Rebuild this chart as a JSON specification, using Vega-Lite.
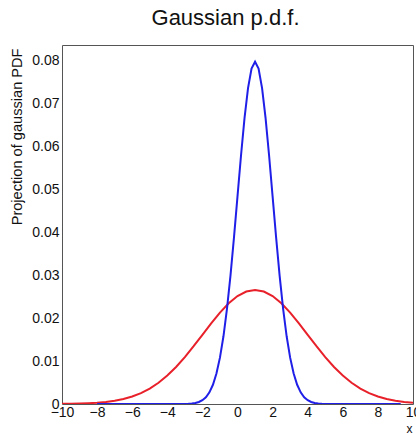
{
  "$schema": "https://vega.github.io/schema/vega-lite/v6.json",
  "autosize": {"type": "none"},
  "padding": {"left": 62, "top": 45, "right": 3, "bottom": 29},
  "width": 351,
  "height": 359,
  "background": "white",
  "config": {
    "view": {"stroke": "#555", "strokeWidth": 1},
    "font": "Liberation Sans",
    "axisX": {
      "ticks": false, "domain": false, "grid": false,
      "labelFont": "Liberation Sans", "labelFontSize": 14, "labelColor": "#111",
      "labelPadding": 1, "labelFlush": false, "labelOverlap": false,
      "titleFont": "Liberation Sans", "titleFontSize": 12, "titleFontWeight": "normal", "titleColor": "#111",
      "titleAnchor": "end", "titleAlign": "right", "titleX": 350, "titleY": 28, "titleBaseline": "alphabetic"
    },
    "axisY": {
      "ticks": false, "domain": false, "grid": false,
      "labelFont": "Liberation Sans", "labelFontSize": 14, "labelColor": "#111",
      "labelPadding": 3, "labelFlush": false, "labelOverlap": false,
      "titleFont": "Liberation Sans", "titleFontSize": 14.6, "titleFontWeight": "normal", "titleColor": "#111",
      "titleAngle": -90, "titleAlign": "right", "titleBaseline": "middle",
      "titleX": -45, "titleY": 3
    }
  },
  "title": {
    "text": "Gaussian p.d.f.",
    "font": "Liberation Sans",
    "fontSize": 22,
    "fontWeight": "normal",
    "color": "#111",
    "anchor": "middle",
    "frame": "group",
    "baseline": "alphabetic",
    "offset": -2,
    "dx": -12
  },
  "datasets": {
    "red": [
      {"x": -10, "y": 0.000032}, {"x": -9.5, "y": 0.000058}, {"x": -9, "y": 0.000103}, {"x": -8.5, "y": 0.000177},
      {"x": -8, "y": 0.000296}, {"x": -7.5, "y": 0.00048}, {"x": -7, "y": 0.00076}, {"x": -6.5, "y": 0.00117},
      {"x": -6, "y": 0.00175}, {"x": -5.5, "y": 0.00254}, {"x": -5, "y": 0.0036}, {"x": -4.5, "y": 0.00495},
      {"x": -4, "y": 0.00663}, {"x": -3.5, "y": 0.00863}, {"x": -3, "y": 0.01093}, {"x": -2.5, "y": 0.01347},
      {"x": -2, "y": 0.01613}, {"x": -1.5, "y": 0.01879}, {"x": -1, "y": 0.0213}, {"x": -0.5, "y": 0.02347},
      {"x": 0, "y": 0.02516}, {"x": 0.5, "y": 0.02623}, {"x": 1, "y": 0.0266}, {"x": 1.5, "y": 0.02623},
      {"x": 2, "y": 0.02516}, {"x": 2.5, "y": 0.02347}, {"x": 3, "y": 0.0213}, {"x": 3.5, "y": 0.01879},
      {"x": 4, "y": 0.01613}, {"x": 4.5, "y": 0.01347}, {"x": 5, "y": 0.01093}, {"x": 5.5, "y": 0.00863},
      {"x": 6, "y": 0.00663}, {"x": 6.5, "y": 0.00495}, {"x": 7, "y": 0.0036}, {"x": 7.5, "y": 0.00254},
      {"x": 8, "y": 0.00175}, {"x": 8.5, "y": 0.00117}, {"x": 9, "y": 0.00076}, {"x": 9.5, "y": 0.00048},
      {"x": 10, "y": 0.000296}
    ],
    "blue": [
      {"x": -8, "y": 0}, {"x": -3.5, "y": 0.000001}, {"x": -3, "y": 0.0000267}, {"x": -2.8, "y": 0.000058},
      {"x": -2.6, "y": 0.000122}, {"x": -2.4, "y": 0.000247}, {"x": -2.2, "y": 0.000477}, {"x": -2, "y": 0.000887},
      {"x": -1.8, "y": 0.00158}, {"x": -1.6, "y": 0.00272}, {"x": -1.4, "y": 0.00448}, {"x": -1.2, "y": 0.00709},
      {"x": -1, "y": 0.0108}, {"x": -0.8, "y": 0.01579}, {"x": -0.6, "y": 0.02218}, {"x": -0.4, "y": 0.02995},
      {"x": -0.2, "y": 0.03884}, {"x": 0, "y": 0.04839}, {"x": 0.2, "y": 0.05794}, {"x": 0.4, "y": 0.06665},
      {"x": 0.6, "y": 0.07366}, {"x": 0.8, "y": 0.07821}, {"x": 1, "y": 0.07979}, {"x": 1.2, "y": 0.07821},
      {"x": 1.4, "y": 0.07366}, {"x": 1.6, "y": 0.06665}, {"x": 1.8, "y": 0.05794}, {"x": 2, "y": 0.04839},
      {"x": 2.2, "y": 0.03884}, {"x": 2.4, "y": 0.02995}, {"x": 2.6, "y": 0.02218}, {"x": 2.8, "y": 0.01579},
      {"x": 3, "y": 0.0108}, {"x": 3.2, "y": 0.00709}, {"x": 3.4, "y": 0.00448}, {"x": 3.6, "y": 0.00272},
      {"x": 3.8, "y": 0.00158}, {"x": 4, "y": 0.000887}, {"x": 4.2, "y": 0.000477}, {"x": 4.4, "y": 0.000247},
      {"x": 4.6, "y": 0.000122}, {"x": 4.8, "y": 0.000058}, {"x": 5, "y": 0.0000267}, {"x": 5.5, "y": 0.000001},
      {"x": 9.3, "y": 0}
    ],
    "xmajor": [
      {"x": -8}, {"x": -6}, {"x": -4}, {"x": -2}, {"x": 0}, {"x": 2}, {"x": 4}, {"x": 6}, {"x": 8}
    ],
    "xminor": [
      {"x": -9.6}, {"x": -9.2}, {"x": -8.8}, {"x": -8.4}, {"x": -7.6}, {"x": -7.2}, {"x": -6.8}, {"x": -6.4},
      {"x": -5.6}, {"x": -5.2}, {"x": -4.8}, {"x": -4.4}, {"x": -3.6}, {"x": -3.2}, {"x": -2.8}, {"x": -2.4},
      {"x": -1.6}, {"x": -1.2}, {"x": -0.8}, {"x": -0.4}, {"x": 0.4}, {"x": 0.8}, {"x": 1.2}, {"x": 1.6},
      {"x": 2.4}, {"x": 2.8}, {"x": 3.2}, {"x": 3.6}, {"x": 4.4}, {"x": 4.8}, {"x": 5.2}, {"x": 5.6},
      {"x": 6.4}, {"x": 6.8}, {"x": 7.2}, {"x": 7.6}, {"x": 8.4}, {"x": 8.8}, {"x": 9.2}, {"x": 9.6}
    ],
    "ymajor": [
      {"y": 0.01}, {"y": 0.02}, {"y": 0.03}, {"y": 0.04}, {"y": 0.05}, {"y": 0.06}, {"y": 0.07}, {"y": 0.08}
    ],
    "yminor": [
      {"y": 0.002}, {"y": 0.004}, {"y": 0.006}, {"y": 0.008}, {"y": 0.012}, {"y": 0.014}, {"y": 0.016}, {"y": 0.018},
      {"y": 0.022}, {"y": 0.024}, {"y": 0.026}, {"y": 0.028}, {"y": 0.032}, {"y": 0.034}, {"y": 0.036}, {"y": 0.038},
      {"y": 0.042}, {"y": 0.044}, {"y": 0.046}, {"y": 0.048}, {"y": 0.052}, {"y": 0.054}, {"y": 0.056}, {"y": 0.058},
      {"y": 0.062}, {"y": 0.064}, {"y": 0.066}, {"y": 0.068}, {"y": 0.072}, {"y": 0.074}, {"y": 0.076}, {"y": 0.078},
      {"y": 0.082}
    ]
  },
  "encoding": {
    "x": {
      "field": "x", "type": "quantitative", "title": "x",
      "scale": {"domain": [-10, 10], "nice": false, "zero": false},
      "axis": {"values": [-10, -8, -6, -4, -2, 0, 2, 4, 6, 8, 10]}
    },
    "y": {
      "field": "y", "type": "quantitative", "title": "Projection of gaussian PDF",
      "scale": {"domain": [0, 0.0837], "nice": false, "zero": false},
      "axis": {
        "values": [0, 0.01, 0.02, 0.03, 0.04, 0.05, 0.06, 0.07, 0.08],
        "labelExpr": "datum.value == 0 ? '0' : format(datum.value, '.2f')"
      }
    }
  },
  "layer": [
    {
      "data": {"name": "red"},
      "mark": {"type": "line", "color": "#e8202a", "strokeWidth": 2, "clip": true}
    },
    {
      "data": {"name": "blue"},
      "mark": {"type": "line", "color": "#1f1fe8", "strokeWidth": 2, "clip": true}
    },
    {
      "data": {"name": "xmajor"},
      "mark": {"type": "rule", "color": "#444", "strokeWidth": 1},
      "encoding": {
        "y": {"datum": 0, "type": "quantitative"},
        "y2": {"datum": 0.0023}
      }
    },
    {
      "data": {"name": "xminor"},
      "mark": {"type": "rule", "color": "#444", "strokeWidth": 1},
      "encoding": {
        "y": {"datum": 0, "type": "quantitative"},
        "y2": {"datum": 0.00117}
      }
    },
    {
      "data": {"name": "ymajor"},
      "mark": {"type": "rule", "color": "#444", "strokeWidth": 1},
      "encoding": {
        "x": {"datum": -10, "type": "quantitative"},
        "x2": {"datum": -9.49}
      }
    },
    {
      "data": {"name": "yminor"},
      "mark": {"type": "rule", "color": "#444", "strokeWidth": 1},
      "encoding": {
        "x": {"datum": -10, "type": "quantitative"},
        "x2": {"datum": -9.74}
      }
    }
  ]
}
